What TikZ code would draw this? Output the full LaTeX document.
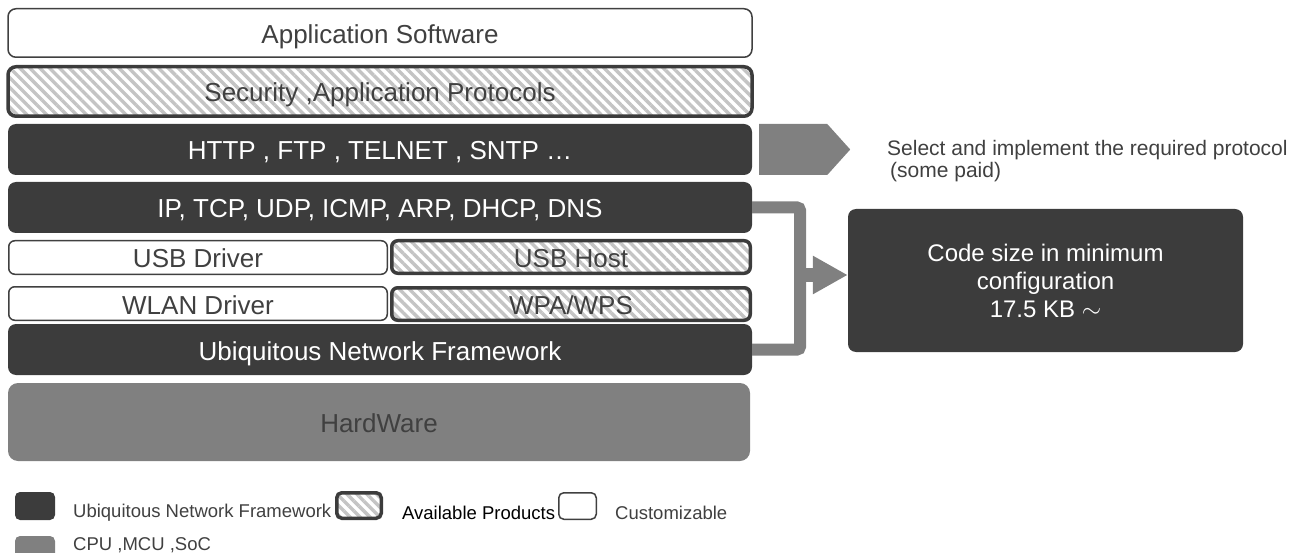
\documentclass[tikz,border=0pt]{standalone}
\usepackage{fontspec}
\setmainfont{Liberation Sans}
\usetikzlibrary{shapes.symbols,patterns.meta,arrows.meta}
\definecolor{dark}{HTML}{3C3C3C}
\definecolor{mid}{HTML}{808080}
\definecolor{ink}{HTML}{404040}
\definecolor{stripe}{HTML}{C4C4C4}

\begin{document}
\begin{tikzpicture}[x=1pt, y=-1pt,
        layer/.style={rounded corners=8, minimum width=744, minimum height=51,
            inner sep=0, text height=21, text depth=0, font=\fontsize{26}{30}\selectfont},
        core/.style={layer, fill=dark, text=white},
        custom/.style={layer, draw=ink, line width=1.5, fill=white, text=ink},
        product/.style={layer, draw=dark, line width=3.5, text=ink,
            pattern={Lines[angle=-45, distance=7pt, line width=3.4pt]},
            pattern color=stripe},
        half/.style={minimum width=#1, minimum height=33.5, rounded corners=6},
        swatch/.style={inner sep=0, rounded corners=5, minimum width=40, minimum height=28},
        key/.style={anchor=west, inner sep=0, text=ink, font=\fontsize{18.5}{22}\selectfont}]
        \useasboundingbox (0, 0) rectangle (1308, 553);
        % stack
        \node [custom, minimum height=48.5] (app) at (380, 33) {Application Software};
        \node [product, minimum height=49.5] (sec) at (380, 91.5) {Security ,Application Protocols};
        \node [core] (http) at (380, 149.5) {HTTP , FTP , TELNET , SNTP …};
        \node [core] (ip) at (380, 207.5) {IP, TCP, UDP, ICMP, ARP, DHCP, DNS};
        \node [custom, half=378.5] (usbdrv) at (198, 257.5) {USB Driver};
        \node [product, half=358.5, minimum height=32.5] (usbhost) at (571, 257) {USB Host};
        \node [custom, half=378.5] (wlandrv) at (198, 303.5) {WLAN Driver};
        \node [product, half=358.5, minimum height=32.5] (wpa) at (571, 304) {WPA/WPS};
        \node [core] (unf) at (380, 349.5) {Ubiquitous Network Framework};
        \node [layer, fill=mid, text=ink, minimum width=742, minimum height=78,
            rounded corners=10] (hw) at (379, 422) {HardWare};
        % right side
        \node [signal, signal to=east, signal pointer angle=96, fill=mid, inner sep=0,
            minimum width=91, minimum height=51, anchor=west] (pick) at (759, 149.5) {};
        \node [anchor=west, align=left, inner sep=0, text=ink,
            font=\fontsize{21}{22}\selectfont] (note) at (887, 161)
            {Select and implement the required protocol\\\hspace{3pt}(some paid)};
        \node [core, minimum width=395, minimum height=143, align=center,
            text height=, text depth=, font=\fontsize{24}{28}\selectfont] (code) at (1045.5, 280.5)
            {Code size in minimum\\configuration\\17.5 KB $\sim$};
        \draw [mid, line width=12, rounded corners=3] (ip.east) -| (800, 279) |- (unf.east);
        \coordinate (fork) at (800, 275);
        \draw [mid, line width=14, -{Triangle[length=35pt, width=36pt]}] (fork) -- (code.west |- fork);
        % legend
        \node [swatch, fill=dark] (kcore) at (35, 506) {};
        \node [key] (tcore) at (73, 513) {Ubiquitous Network Framework};
        \node [swatch, draw=dark, line width=3.5, minimum width=44.5, minimum height=25.5,
            pattern={Lines[angle=-45, distance=7pt, line width=3.4pt]},
            pattern color=stripe] (kprod) at (359, 505.5) {};
        \node [key, text=black] (tprod) at (402, 513) {Available Products};
        \node [swatch, draw=ink, line width=1.5, minimum width=37.5, minimum height=26.5] (kcust) at (577.5, 506) {};
        \node [key] (tcust) at (615, 513) {Customizable};
        \node [swatch, fill=mid] (khw) at (35, 550) {};
        \node [key] (thw) at (73, 545) {CPU ,MCU ,SoC};
    \end{tikzpicture}
\end{document}
